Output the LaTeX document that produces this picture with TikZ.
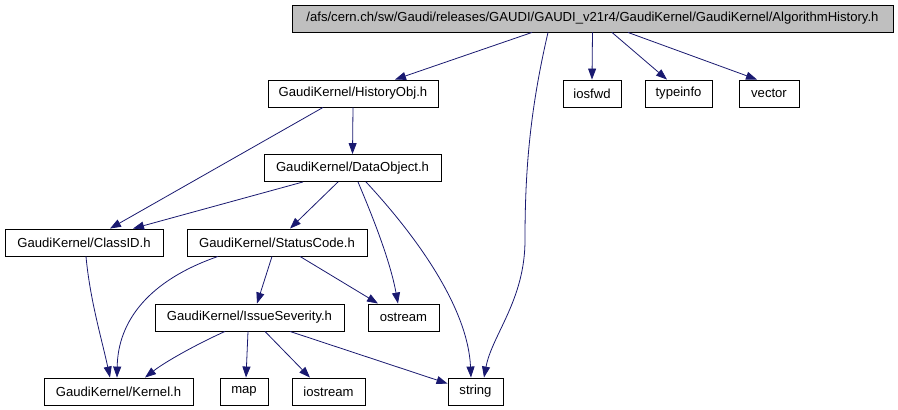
\documentclass[tikz,border=0pt]{standalone}
\usepackage{fontspec}
\setmainfont{Liberation Sans}
\usetikzlibrary{arrows.meta}
\definecolor{edgeblue}{HTML}{191970}
\definecolor{rootgray}{HTML}{BFBFBF}
\tikzset{
  filebox/.style={draw=black, line width=0.9pt, inner sep=0pt, minimum height=27pt,
    font=\fontsize{13.1}{15}\selectfont, anchor=center, fill=white},
  rootbox/.style={filebox, fill=rootgray},
  dep/.style={draw=edgeblue, line width=0.8pt, -{Triangle[length=11pt,width=8pt]}, color=edgeblue}
}
\begin{document}
\begin{tikzpicture}[x=1pt,y=-1pt]
\useasboundingbox (0,0) rectangle (898,410);
% nodes
\node[rootbox, minimum width=601pt] (root) at (592.5,18.5) {/afs/cern.ch/sw/Gaudi/releases/GAUDI/GAUDI\_v21r4/GaudiKernel/GaudiKernel/AlgorithmHistory.h};
\node[filebox, minimum width=170pt] (hist) at (353,93.5) {GaudiKernel/HistoryObj.h};
\node[filebox, minimum width=58pt] (iosfwd) at (592,93.5) {iosfwd};
\node[filebox, minimum width=67pt] (typeinfo) at (678.5,93.5) {typeinfo};
\node[filebox, minimum width=60pt] (vector) at (769,93.5) {vector};
\node[filebox, minimum width=177pt] (data) at (352.5,168) {GaudiKernel/DataObject.h};
\node[filebox, minimum width=158pt] (classid) at (84,242.5) {GaudiKernel/ClassID.h};
\node[filebox, minimum width=180pt] (status) at (277,242.5) {GaudiKernel/StatusCode.h};
\node[filebox, minimum width=189pt] (issue) at (249.5,317.5) {GaudiKernel/IssueSeverity.h};
\node[filebox, minimum width=71pt] (ostream) at (403.5,317.5) {ostream};
\node[filebox, minimum width=149pt] (kernel) at (118.5,391.5) {GaudiKernel/Kernel.h};
\node[filebox, minimum width=48pt] (map) at (244,391.5) {map};
\node[filebox, minimum width=73pt] (iostream) at (328.5,391.5) {iostream};
\node[filebox, minimum width=55pt] (string) at (475.5,391.5) {string};
% edges
\draw[dep] ([xshift=-60.5pt]root.south) -- ([xshift=42pt]hist.north);
\draw[dep] ([xshift=-44.5pt]root.south) .. controls (530,110) and (525,170) .. (525,240)
   .. controls (525,300) and (492,335) .. ([xshift=8.5pt]string.north);
\draw[dep] (root.south) -- (iosfwd.north);
\draw[dep] ([xshift=19.5pt]root.south) -- ([xshift=-11.5pt]typeinfo.north);
\draw[dep] ([xshift=35.5pt]root.south) -- ([xshift=-12pt]vector.north);
\draw[dep] ([xshift=-30pt]hist.south) -- ([xshift=26pt]classid.north);
\draw[dep] (hist.south) -- (data.north);
\draw[dep] ([xshift=-49.5pt]data.south) -- ([xshift=49pt]classid.north);
\draw[dep] ([xshift=-14.5pt]data.south) -- ([xshift=13pt]status.north);
\draw[dep] ([xshift=5.5pt]data.south) .. controls (372,215) and (390,260) .. ([xshift=-5.5pt]ostream.north);
\draw[dep] ([xshift=13.5pt]data.south) .. controls (420,240) and (468,310) .. ([xshift=-4.5pt]string.north);
\draw[dep] ([xshift=2pt]classid.south) .. controls (90,300) and (102,340) .. ([xshift=-8.5pt]kernel.north);
\draw[dep] ([xshift=-59pt]status.south) .. controls (150,280) and (118,320) .. ([xshift=-1.5pt]kernel.north);
\draw[dep] ([xshift=-5pt]status.south) -- ([xshift=7.5pt]issue.north);
\draw[dep] ([xshift=23pt]status.south) -- ([xshift=-25.5pt]ostream.north);
\draw[dep] ([xshift=-24.5pt]issue.south) .. controls (195,345) and (165,362) .. ([xshift=26.5pt]kernel.north);
\draw[dep] ([xshift=-1.5pt]issue.south) -- ([xshift=2pt]map.north);
\draw[dep] ([xshift=15.5pt]issue.south) -- ([xshift=-18.5pt]iostream.north);
\draw[dep] ([xshift=40.5pt]issue.south) -- ([yshift=-6pt]string.north west);
\end{tikzpicture}
\end{document}
